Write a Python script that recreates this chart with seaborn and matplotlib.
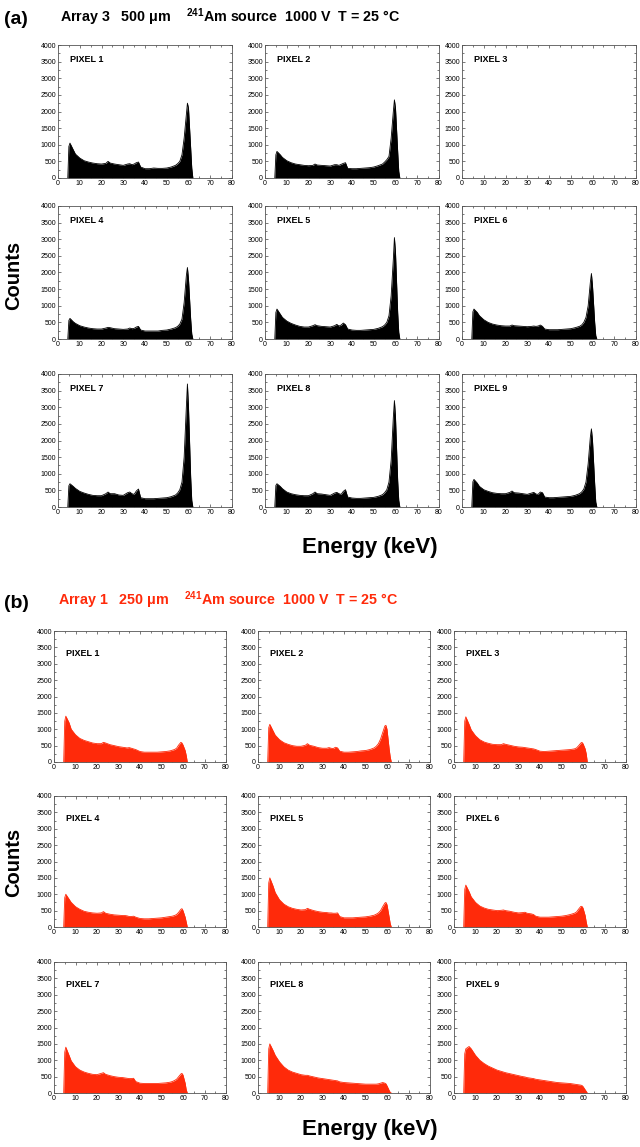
import numpy as np
import seaborn as sns
import matplotlib.pyplot as plt

# Energy grid (keV) shared by all spectra
energy = [4.5, 5.0, 5.5, 7, 8, 10, 12, 14, 16, 18, 20, 22, 23, 24, 26, 28, 30,
          32, 33, 34, 35, 36, 37, 38, 40, 42, 44, 46, 48, 50, 52, 54, 55, 56,
          57, 58, 59, 59.5, 60, 61, 61.5, 62]

# (a) Array 3, 500 um  (pixel 3 has no data)
a_p1 = [0, 950, 1050, 850, 720, 600, 520, 480, 450, 430, 420, 440, 500, 450, 420, 400, 380,
        420, 430, 400, 420, 460, 480, 330, 280, 280, 300, 290, 290, 300, 330, 380, 430, 500,
        700, 1200, 1900, 2250, 2100, 900, 300, 0]
a_p2 = [0, 700, 800, 700, 620, 520, 460, 420, 400, 380, 370, 380, 420, 390, 380, 370, 360,
        400, 400, 380, 410, 440, 460, 290, 280, 280, 290, 300, 310, 330, 370, 420, 480, 550,
        650, 1200, 2000, 2350, 2100, 800, 200, 0]
a_p3 = None
a_p4 = [0, 560, 620, 520, 470, 400, 360, 330, 310, 300, 300, 330, 350, 340, 310, 300, 290,
        300, 330, 310, 320, 360, 380, 270, 240, 240, 240, 240, 260, 270, 300, 340, 380, 450,
        600, 1100, 1900, 2150, 1800, 600, 150, 0]
a_p5 = [0, 800, 900, 750, 650, 540, 470, 420, 380, 360, 360, 400, 430, 400, 380, 370, 360,
        400, 440, 390, 420, 480, 430, 300, 270, 260, 260, 270, 280, 290, 320, 370, 420, 500,
        700, 1300, 2400, 3050, 2600, 800, 200, 0]
a_p6 = [0, 820, 900, 800, 700, 580, 500, 450, 420, 400, 390, 390, 420, 400, 390, 380, 370,
        380, 390, 380, 390, 420, 380, 300, 280, 280, 280, 290, 300, 310, 340, 380, 420, 500,
        650, 1000, 1700, 1970, 1600, 500, 100, 0]
a_p7 = [0, 640, 700, 620, 560, 470, 420, 380, 350, 340, 340, 400, 450, 400, 400, 360, 350,
        430, 450, 400, 380, 480, 540, 280, 250, 250, 250, 260, 270, 280, 310, 360, 420, 520,
        750, 1500, 3000, 3700, 3000, 900, 200, 0]
a_p8 = [0, 650, 700, 620, 550, 450, 400, 370, 350, 340, 340, 400, 450, 400, 390, 370, 350,
        420, 440, 400, 380, 470, 520, 300, 270, 260, 260, 270, 280, 290, 320, 370, 430, 520,
        750, 1400, 2700, 3200, 2700, 800, 200, 0]
a_p9 = [0, 760, 830, 720, 620, 520, 470, 430, 410, 400, 400, 440, 480, 430, 420, 400, 380,
        420, 440, 390, 380, 450, 430, 300, 280, 280, 290, 300, 310, 320, 350, 400, 450, 540,
        750, 1300, 2100, 2350, 2000, 700, 150, 0]

# (b) Array 1, 250 um
b_p1 = [0, 1250, 1400, 1200, 1000, 830, 720, 660, 620, 580, 560, 560, 600, 580, 530, 500, 470,
        450, 440, 430, 440, 420, 400, 380, 320, 300, 300, 300, 300, 310, 320, 340, 360, 380,
        420, 520, 600, 580, 520, 350, 200, 0]
b_p2 = [0, 1050, 1150, 950, 820, 680, 590, 540, 500, 480, 480, 510, 560, 510, 480, 440, 420,
        420, 440, 420, 410, 450, 430, 330, 300, 300, 310, 320, 340, 350, 380, 430, 480, 560,
        700, 900, 1100, 1120, 1000, 400, 150, 0]
b_p3 = [0, 1250, 1380, 1150, 980, 800, 680, 610, 570, 540, 530, 530, 560, 540, 510, 480, 460,
        450, 440, 430, 420, 410, 400, 380, 330, 320, 330, 340, 350, 360, 370, 380, 390, 400,
        430, 500, 580, 600, 560, 400, 250, 0]
b_p4 = [0, 900, 1000, 850, 750, 620, 540, 480, 450, 430, 420, 430, 470, 420, 390, 370, 360,
        350, 350, 340, 320, 320, 330, 300, 260, 250, 250, 260, 270, 280, 300, 320, 330, 350,
        380, 450, 540, 560, 500, 300, 150, 0]
b_p5 = [0, 1350, 1500, 1250, 1050, 830, 700, 620, 570, 540, 520, 530, 570, 540, 500, 470, 450,
        440, 430, 430, 420, 420, 430, 320, 280, 280, 280, 290, 300, 310, 330, 360, 390, 430,
        500, 620, 730, 750, 680, 300, 100, 0]
b_p6 = [0, 1150, 1280, 1080, 920, 750, 640, 580, 540, 520, 500, 510, 520, 500, 480, 450, 430,
        440, 450, 420, 410, 400, 380, 330, 300, 300, 300, 310, 320, 330, 350, 380, 400, 420,
        460, 550, 630, 630, 580, 350, 150, 0]
b_p7 = [0, 1250, 1400, 1150, 980, 800, 700, 640, 600, 570, 560, 600, 620, 570, 530, 500, 480,
        470, 460, 450, 440, 440, 450, 350, 300, 290, 290, 290, 290, 300, 310, 330, 350, 380,
        420, 500, 580, 600, 550, 300, 100, 0]
b_p8 = [0, 1350, 1500, 1300, 1150, 950, 800, 700, 640, 600, 560, 540, 540, 520, 490, 460, 440,
        420, 410, 400, 390, 380, 370, 340, 320, 310, 300, 290, 280, 270, 270, 270, 270, 280,
        300, 320, 300, 280, 220, 80, 20, 0]
b_p9 = [0, 1200, 1350, 1420, 1350, 1150, 1000, 900, 820, 760, 700, 660, 640, 620, 590, 560, 530,
        500, 490, 470, 460, 450, 440, 420, 400, 380, 360, 340, 320, 310, 300, 290, 280, 270,
        260, 250, 240, 230, 200, 100, 50, 0]

panel_a = [a_p1, a_p2, a_p3, a_p4, a_p5, a_p6, a_p7, a_p8, a_p9]
panel_b = [b_p1, b_p2, b_p3, b_p4, b_p5, b_p6, b_p7, b_p8, b_p9]

sns.set_style('ticks')
plt.rcParams['font.family'] = ['Liberation Sans', 'DejaVu Sans']
plt.rcParams['text.color'] = 'black'
plt.rcParams['mathtext.fontset'] = 'custom'
plt.rcParams['mathtext.rm'] = 'Liberation Sans:bold'
plt.rcParams['mathtext.bf'] = 'Liberation Sans:bold'
plt.rcParams['mathtext.default'] = 'bf'

W, H = 640, 1147
fig = plt.figure(figsize=(W / 100, H / 100), dpi=100)


def draw_panel(spectra, lefts, tops, w, h, color, label_y):
    for i, counts in enumerate(spectra):
        r, c = divmod(i, 3)
        ax = fig.add_axes([lefts[c] / W, 1 - (tops[r] + h) / H, w / W, h / H])
        if counts is not None:
            ax.fill_between(energy, counts, 0, color=color, linewidth=0)
            sns.lineplot(x=energy, y=counts, ax=ax, color=color, linewidth=0.6)
        ax.set_xlim(0, 80)
        ax.set_ylim(0, 4000)
        ax.set_xticks(np.arange(0, 81, 10))
        ax.set_yticks(np.arange(0, 4001, 500))
        ax.set_xticks(np.arange(0, 81, 5), minor=True)
        ax.set_yticks(np.arange(0, 4001, 250), minor=True)
        ax.tick_params(which='both', direction='in', top=True, right=True,
                       labelsize=5, length=2.5, width=0.5, pad=1.5, colors='#444444',
                       labelcolor='black')
        ax.tick_params(which='minor', length=1.3)
        for s in ax.spines.values():
            s.set_linewidth(0.6)
            s.set_color('#555555')
        ax.set_xlabel('')
        ax.set_ylabel('')
        ax.text(0.07, label_y, f'PIXEL {i + 1}', transform=ax.transAxes,
                fontsize=6.5, fontweight='bold', color='black')


draw_panel(panel_a, [58, 265, 462], [45, 206, 374], 174, 133, 'black', 0.87)
draw_panel(panel_b, [54, 258, 454], [631, 796, 962], 172, 131, '#ff2a0a', 0.81)

title = 'Array %s   %s μm    $^{241}$Am source  1000 V  T = 25 °C'
fig.text(4 / W, 1 - 20 / H, '(a)', fontsize=14, fontweight='bold', va='center')
fig.text(60 / W, 1 - 17 / H, title % ('3', '500'), fontsize=10.3, fontweight='bold',
         va='center')
fig.text(4 / W, 1 - 604 / H, '(b)', fontsize=14, fontweight='bold', va='center')
fig.text(58 / W, 1 - 600 / H, title % ('1', '250'), fontsize=10.3, fontweight='bold',
         va='center', color='#ff2a0a')

for y in [275, 862]:
    fig.text(14 / W, 1 - y / H, 'Counts', fontsize=14.5, fontweight='bold',
             rotation=90, ha='center', va='center')
for y in [547, 1130]:
    fig.text(370 / W, 1 - y / H, 'Energy (keV)', fontsize=16, fontweight='bold',
             ha='center', va='center')

plt.savefig('out.png', dpi=100)
plt.close()
